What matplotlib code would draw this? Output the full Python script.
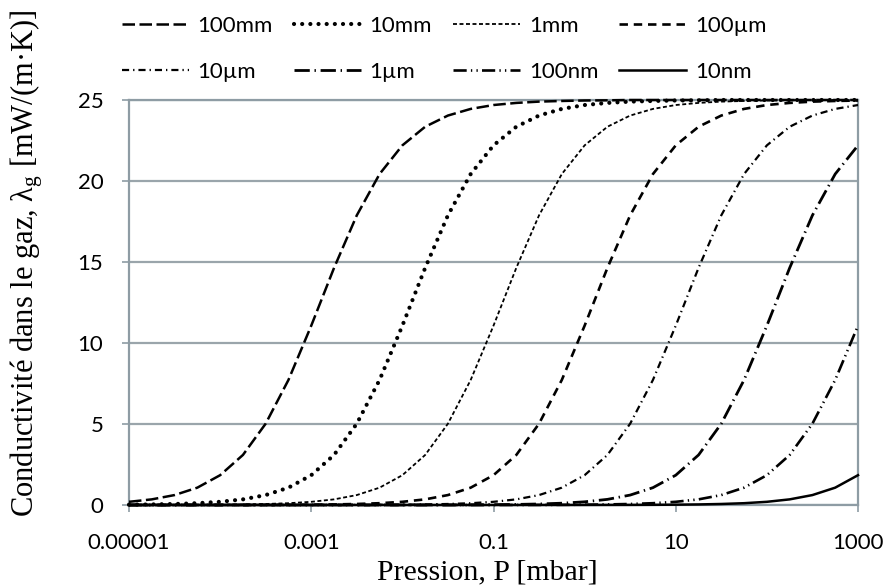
import matplotlib
matplotlib.use("Agg")
import matplotlib.pyplot as plt
from matplotlib.ticker import FixedLocator, NullLocator

plt.rcParams['mathtext.fontset'] = 'custom'
plt.rcParams['mathtext.rm'] = 'Liberation Serif'
plt.rcParams['mathtext.it'] = 'Liberation Serif:italic'

# Pressure sample points [mbar]
pressure = [1e-5, 1.78e-5, 3.16e-5, 5.62e-5,
            1e-4, 1.78e-4, 3.16e-4, 5.62e-4,
            1e-3, 1.78e-3, 3.16e-3, 5.62e-3,
            0.01, 0.0178, 0.0316, 0.0562,
            0.1, 0.178, 0.316, 0.562,
            1, 1.78, 3.16, 5.62,
            10, 17.8, 31.6, 56.2,
            100, 178, 316, 562,
            1000]

labels = ["100mm", "10mm", "1mm", "100µm", "10µm", "1µm", "100nm", "10nm"]

lam_100mm = [0.197, 0.348, 0.613, 1.07, 1.84, 3.09, 5.02, 7.72, 11.07, 14.64, 17.88,
             20.43, 22.20, 23.35, 24.04, 24.45, 24.69, 24.82, 24.90, 24.94, 24.97, 24.98,
             25.0, 25.0, 25.0, 25.0, 25.0, 25.0, 25.0, 25.0, 25.0, 25.0, 25.0]
lam_10mm = [0.020, 0.035, 0.063, 0.111,
            0.197, 0.348, 0.613, 1.07, 1.84, 3.09, 5.02, 7.72, 11.07, 14.64, 17.88,
            20.43, 22.20, 23.35, 24.04, 24.45, 24.69, 24.82, 24.90, 24.94, 24.97, 24.98,
            25.0, 25.0, 25.0, 25.0, 25.0, 25.0, 25.0]
lam_1mm = [0.002, 0.004, 0.006, 0.011, 0.020, 0.035, 0.063, 0.111,
           0.197, 0.348, 0.613, 1.07, 1.84, 3.09, 5.02, 7.72, 11.07, 14.64, 17.88,
           20.43, 22.20, 23.35, 24.04, 24.45, 24.69, 24.82, 24.90, 24.94, 24.97, 24.98,
           25.0, 25.0, 25.0]
lam_100um = [0.0, 0.0, 0.001, 0.001,
             0.002, 0.004, 0.006, 0.011, 0.020, 0.035, 0.063, 0.111,
             0.197, 0.348, 0.613, 1.07, 1.84, 3.09, 5.02, 7.72, 11.07, 14.64, 17.88,
             20.43, 22.20, 23.35, 24.04, 24.45, 24.69, 24.82, 24.90, 24.94, 24.97]
lam_10um = [0.0, 0.0, 0.0, 0.0, 0.0, 0.0, 0.001, 0.001,
            0.002, 0.004, 0.006, 0.011, 0.020, 0.035, 0.063, 0.111,
            0.197, 0.348, 0.613, 1.07, 1.84, 3.09, 5.02, 7.72, 11.07, 14.64, 17.88,
            20.43, 22.20, 23.35, 24.04, 24.45, 24.69]
lam_1um = [0.0, 0.0, 0.0, 0.0, 0.0, 0.0, 0.0, 0.0, 0.0, 0.0, 0.001, 0.001,
           0.002, 0.004, 0.006, 0.011, 0.020, 0.035, 0.063, 0.111,
           0.197, 0.348, 0.613, 1.07, 1.84, 3.09, 5.02, 7.72, 11.07, 14.64, 17.88,
           20.43, 22.20]
lam_100nm = [0.0, 0.0, 0.0, 0.0, 0.0, 0.0, 0.0, 0.0, 0.0, 0.0, 0.0, 0.0, 0.0, 0.0,
             0.001, 0.001,
             0.002, 0.004, 0.006, 0.011, 0.020, 0.035, 0.063, 0.111,
             0.197, 0.348, 0.613, 1.07, 1.84, 3.09, 5.02, 7.72, 11.07]
lam_10nm = [0.0, 0.0, 0.0, 0.0, 0.0, 0.0, 0.0, 0.0, 0.0, 0.0, 0.0, 0.0, 0.0, 0.0,
            0.0, 0.0, 0.0, 0.0, 0.001, 0.001,
            0.002, 0.004, 0.006, 0.011, 0.020, 0.035, 0.063, 0.111,
            0.197, 0.348, 0.613, 1.07, 1.84]

series = [lam_100mm, lam_10mm, lam_1mm, lam_100um, lam_10um, lam_1um, lam_100nm, lam_10nm]

xticks = [1e-5, 1e-3, 1e-1, 10, 1000]
xticklabels = ["0.00001", "0.001", "0.1", "10", "1000"]
yticks = [0, 5, 10, 15, 20, 25]

styles = [
    dict(lw=1.8, dashes=(5.0, 1.8), dash_capstyle='butt'),
    dict(lw=3.0, dashes=(0.01, 1.95), dash_capstyle='round'),
    dict(lw=1.3, dashes=(2.2, 1.4), dash_capstyle='butt'),
    dict(lw=1.9, dashes=(3.2, 2.2), dash_capstyle='butt'),
    dict(lw=1.6, dashes=(3.2, 1.8, 0.6, 1.8), dash_capstyle='butt'),
    dict(lw=2.0, dashes=(5.5, 1.7, 0.5, 1.7), dash_capstyle='butt'),
    dict(lw=1.9, dashes=(5.0, 1.6, 0.5, 1.6, 0.5, 1.6), dash_capstyle='butt'),
    dict(lw=1.8, ls='-'),
]

fig = plt.figure(figsize=(8.86, 5.88), dpi=100)
ax = fig.add_axes([129/886, 1-505/588, (858-129)/886, (505-100)/588])

axis_col = '#8E9CA4'
grid_col = '#9AA5AB'

handles = []
for vals, lab, st in zip(series, labels, styles):
    st = dict(st)
    lw = st.pop('lw')
    if 'dashes' in st:
        ln, = ax.plot(pressure, vals, color='black', lw=lw, dashes=st['dashes'],
                      dash_capstyle=st['dash_capstyle'], label=lab, zorder=3, clip_on=False)
    else:
        ln, = ax.plot(pressure, vals, color='black', lw=lw, ls='-', label=lab,
                      zorder=3, clip_on=False)
    handles.append(ln)

ax.set_xscale('log')
ax.set_xlim(1e-5, 1000)
ax.set_ylim(0, 25)
ax.xaxis.set_major_locator(FixedLocator(xticks))
ax.xaxis.set_minor_locator(NullLocator())
ax.set_xticklabels(xticklabels)
ax.set_yticks(yticks)
ax.yaxis.grid(True, color=grid_col, lw=1.6, zorder=0)
ax.set_axisbelow(True)
for s in ax.spines.values():
    s.set_color(axis_col)
    s.set_linewidth(1.6)
ax.tick_params(axis='both', colors=axis_col, length=5, width=1.2, labelcolor='black',
               labelsize=16)
ax.tick_params(axis='y', pad=13.5)
ax.tick_params(axis='x', pad=15)
for t in ax.get_xticklabels() + ax.get_yticklabels():
    t.set_fontfamily('Lato')

fig.text(487/886, 1-572/588, "Pression, P [mbar]", family='Liberation Serif',
         fontsize=21.5, ha='center', va='center')
fig.text(27/886, 1-263/588, r"Conductivité dans le gaz, $\mathrm{\lambda}_\mathrm{g}$ [mW/(m·K)]",
         family='Liberation Serif', fontsize=22, rotation=90, ha='center', va='center')

order = [0, 4, 1, 5, 2, 6, 3, 7]
fig.legend([handles[i] for i in order], [labels[i] for i in order], ncol=4,
           loc='upper left', bbox_to_anchor=(122/886, 1-16/588), frameon=False,
           prop={'family': 'Lato', 'size': 16}, handlelength=3.0, handletextpad=0.4,
           columnspacing=0.95, labelspacing=1.15, borderaxespad=0.0, borderpad=0.0)

fig.savefig('out.png', dpi=100)
